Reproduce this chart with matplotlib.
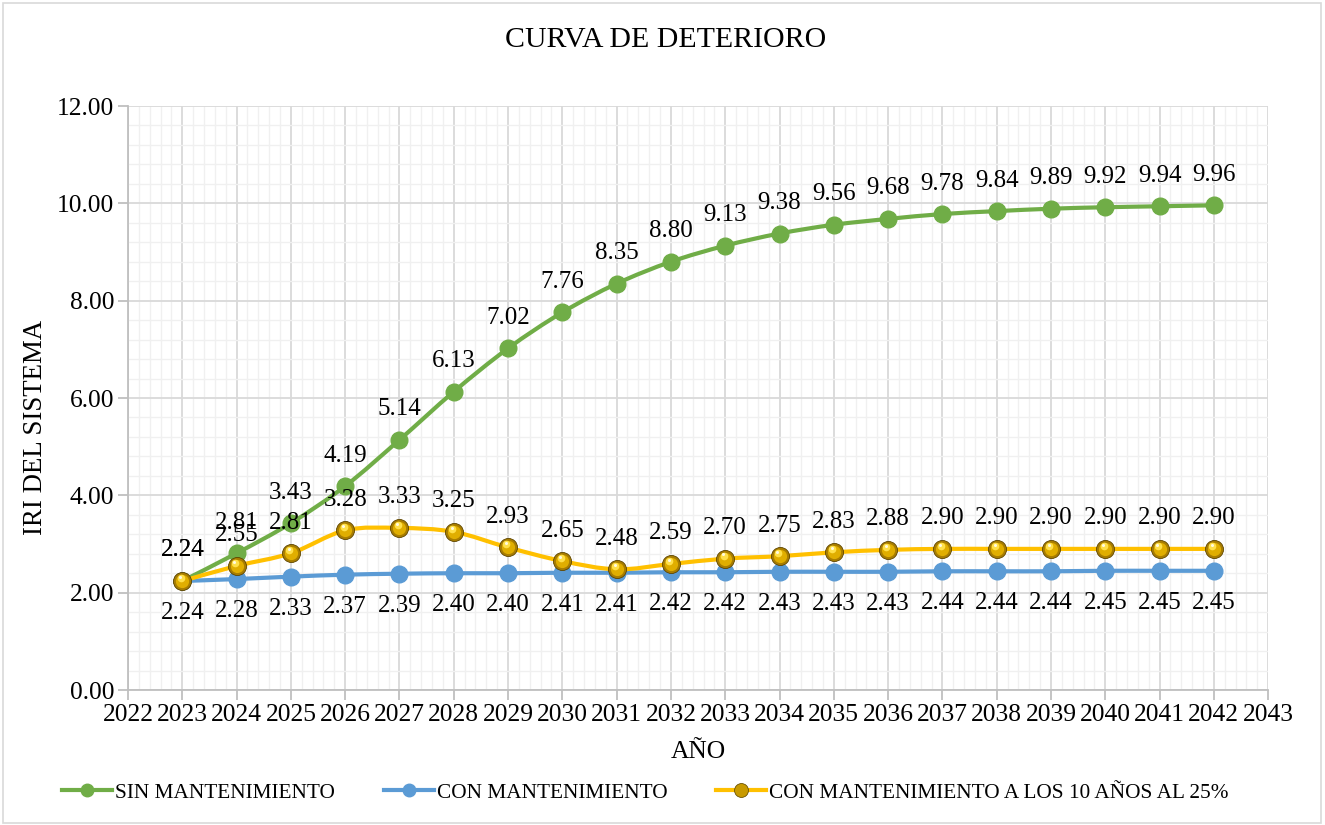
import matplotlib.pyplot as plt
import matplotlib.transforms as mtrans
from matplotlib.path import Path
from matplotlib.patches import PathPatch, Rectangle
from matplotlib.lines import Line2D
from matplotlib.ticker import MultipleLocator, FormatStrFormatter

plt.rcParams['font.family'] = ['Liberation Serif', 'DejaVu Serif']

anios = list(range(2023, 2043))
sin_mant = [2.24, 2.81, 3.43, 4.19, 5.14, 6.13, 7.02, 7.76, 8.35, 8.80,
            9.13, 9.38, 9.56, 9.68, 9.78, 9.84, 9.89, 9.92, 9.94, 9.96]
con_mant = [2.24, 2.28, 2.33, 2.37, 2.39, 2.40, 2.40, 2.41, 2.41, 2.42,
            2.42, 2.43, 2.43, 2.43, 2.44, 2.44, 2.44, 2.45, 2.45, 2.45]
mant_10 = [2.24, 2.55, 2.81, 3.28, 3.33, 3.25, 2.93, 2.65, 2.48, 2.59,
           2.70, 2.75, 2.83, 2.88, 2.90, 2.90, 2.90, 2.90, 2.90, 2.90]

VERDE = '#70AD47'
AZUL = '#5B9BD5'
AMARILLO = '#FFC000'


def curva_suave(x, y):
    # linea suavizada tipo Excel (bezier por tramos)
    verts = [(x[0], y[0])]
    codes = [Path.MOVETO]
    n = len(x)
    for i in range(n - 1):
        x0, y0 = (x[i - 1], y[i - 1]) if i > 0 else (x[i], y[i])
        x3, y3 = (x[i + 2], y[i + 2]) if i + 2 < n else (x[i + 1], y[i + 1])
        c1 = (x[i] + (x[i + 1] - x0) / 6, y[i] + (y[i + 1] - y0) / 6)
        c2 = (x[i + 1] - (x3 - x[i]) / 6, y[i + 1] - (y3 - y[i]) / 6)
        verts += [c1, c2, (x[i + 1], y[i + 1])]
        codes += [Path.CURVE4] * 3
    return Path(verts, codes)


fig = plt.figure(figsize=(13.25, 8.25), dpi=100)
fig.patches.append(Rectangle((0.002, 0.003), 0.995, 0.993, transform=fig.transFigure,
                             fill=False, edgecolor='#D9D9D9', linewidth=1.2))
ax = fig.add_axes([0.0966, 0.1636, 0.8605, 0.7079])

ax.set_xlim(2022, 2043)
ax.set_ylim(0, 12)
ax.xaxis.set_major_locator(MultipleLocator(1))
ax.xaxis.set_minor_locator(MultipleLocator(0.2))
ax.yaxis.set_major_locator(MultipleLocator(2))
ax.yaxis.set_minor_locator(MultipleLocator(0.4))
ax.yaxis.set_major_formatter(FormatStrFormatter('%.2f'))
ax.grid(which='major', color='#D9D9D9', linewidth=1.3, zorder=0)
ax.grid(which='minor', color='#F0F0F0', linewidth=1.0, zorder=0)
ax.set_axisbelow(True)
for s in ['top', 'right']:
    ax.spines[s].set_visible(False)
for s in ['left', 'bottom']:
    ax.spines[s].set_color('#BFBFBF')
    ax.spines[s].set_linewidth(1.3)
ax.tick_params(which='major', direction='out', length=7, width=1.3, color='#BFBFBF',
               labelsize=18.4, pad=3)
ax.tick_params(which='minor', length=0)

for ys, col in [(sin_mant, VERDE), (con_mant, AZUL), (mant_10, AMARILLO)]:
    ax.add_patch(PathPatch(curva_suave(anios, ys), facecolor='none', edgecolor=col,
                           linewidth=3, zorder=3, capstyle='round'))

ax.plot(anios, sin_mant, 'o', color=VERDE, markersize=12, zorder=4)
ax.plot(anios, con_mant, 'o', color=AZUL, markersize=12, zorder=4)

# marcadores dorados con brillo
ax.plot(anios, mant_10, 'o', color='#A87D00', markeredgecolor='#5E4500',
        markeredgewidth=0.6, markersize=13, zorder=5)
ax.plot(anios, mant_10, 'o', color='#E0AE00', markeredgewidth=0, markersize=9.5, zorder=6)
brillo = mtrans.offset_copy(ax.transData, fig=fig, x=-1.2, y=2.2, units='points')
ax.plot(anios, mant_10, 'o', color='#FFE04A', markeredgewidth=0, markersize=5.5,
        zorder=7, transform=brillo)
brillo2 = mtrans.offset_copy(ax.transData, fig=fig, x=-1.5, y=3.0, units='points')
ax.plot(anios, mant_10, 'o', color='#FFFBE0', markeredgewidth=0, markersize=2.2,
        zorder=8, transform=brillo2)

for x, y in zip(anios, sin_mant):
    ax.annotate(f'{y:.2f}', (x, y), xytext=(0, 22), textcoords='offset points',
                ha='center', va='center', fontsize=18, zorder=9)
for x, y in zip(anios, con_mant):
    ax.annotate(f'{y:.2f}', (x, y), xytext=(0, -23), textcoords='offset points',
                ha='center', va='center', fontsize=18, zorder=9)
for x, y in zip(anios, mant_10):
    ax.annotate(f'{y:.2f}', (x, y), xytext=(0, 22), textcoords='offset points',
                ha='center', va='center', fontsize=18, zorder=9)

fig.text(0.502, 0.951, 'CURVA DE DETERIORO', ha='center', va='center', fontsize=21.5)
fig.text(0.027, 0.482, 'IRI DEL SISTEMA', ha='center', va='center', rotation=90, fontsize=19.4)
fig.text(0.527, 0.088, 'AÑO', ha='center', va='center', fontsize=18.4)

handles = [
    Line2D([], [], color=VERDE, linewidth=3, marker='o', markersize=9),
    Line2D([], [], color=AZUL, linewidth=3, marker='o', markersize=9),
    Line2D([], [], color=AMARILLO, linewidth=3, marker='o', markersize=10,
           markerfacecolor='#C89A00', markeredgecolor='#6B5200', markeredgewidth=0.6),
]
etiquetas = ['SIN MANTENIMIENTO', 'CON MANTENIMIENTO', 'CON MANTENIMIENTO A LOS 10 AÑOS AL 25%']
fig.legend(handles, etiquetas, loc='center', bbox_to_anchor=(0.487, 0.039), ncol=3,
           frameon=False, fontsize=15.3, handlelength=2.35, handletextpad=0.15,
           columnspacing=2.3)

fig.savefig('out.png', dpi=100)
